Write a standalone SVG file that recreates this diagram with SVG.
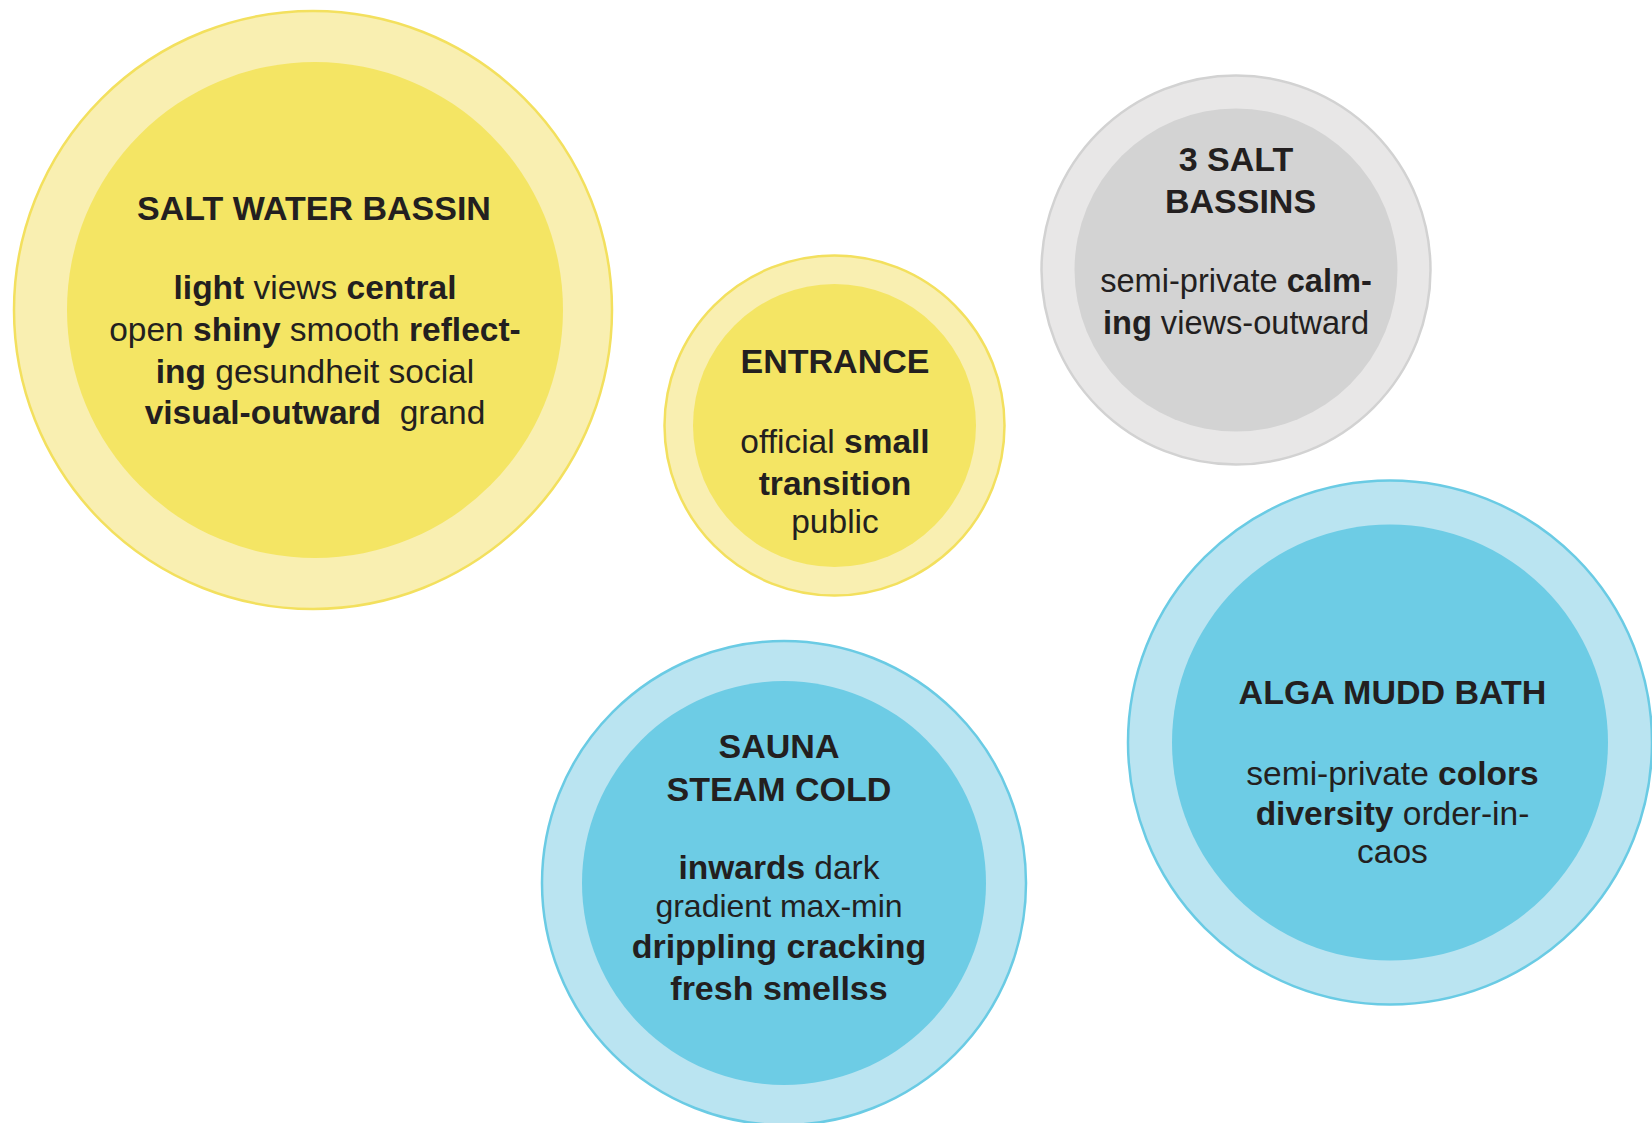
<svg xmlns="http://www.w3.org/2000/svg" width="1652" height="1123" viewBox="0 0 1652 1123">
<style>
text{font-family:"Liberation Sans",Arial,sans-serif;fill:#231F20;text-anchor:middle;font-size:33.5px}
.b{font-weight:bold}
.t{font-weight:bold;font-size:34px}
.yo{fill:#F9EFB1;stroke:#F3E05E;stroke-width:2.5}
.yi{fill:#F4E564}
.go{fill:#E8E7E7;stroke:#D2D2D2;stroke-width:2.5}
.gi{fill:#D3D3D3}
.bo{fill:#BAE4F1;stroke:#6ACBE4;stroke-width:2.5}
.bi{fill:#6DCCE5}
</style>
<rect width="1652" height="1123" fill="#FFFFFF"/>
<g id="connectors"></g>
<g id="salt-water-bassin">
<circle class="yo" cx="313" cy="310" r="299"/>
<circle class="yi" cx="315" cy="310" r="248"/>
<text class="t" x="314" y="220">SALT WATER BASSIN</text>
<text x="315" y="299"><tspan class="b">light</tspan> views <tspan class="b">central</tspan></text>
<text x="315" y="341">open <tspan class="b">shiny</tspan> smooth <tspan class="b">reflect-</tspan></text>
<text x="315" y="383"><tspan class="b">ing</tspan> gesundheit social</text>
<text x="315" y="424" xml:space="preserve"><tspan class="b">visual-outward</tspan>  grand</text>
</g>
<g id="entrance">
<circle class="yo" cx="834.5" cy="425.5" r="170"/>
<circle class="yi" cx="834.5" cy="425.5" r="141.5"/>
<text class="t" x="835" y="373">ENTRANCE</text>
<text x="835" y="453">official <tspan class="b">small</tspan></text>
<text x="835" y="495" class="b">transition</text>
<text x="835" y="533">public</text>
</g>
<g id="three-salt-bassins">
<circle class="go" cx="1236" cy="270" r="194.5"/>
<circle class="gi" cx="1236" cy="270" r="161.5"/>
<text class="t" x="1236" y="171">3 SALT</text>
<text class="t" x="1240.5" y="213">BASSINS</text>
<text x="1236" y="292" style="font-size:32.6px">semi-private <tspan class="b">calm-</tspan></text>
<text x="1236" y="334" style="font-size:32.6px"><tspan class="b">ing</tspan> views-outward</text>
</g>
<g id="sauna-steam-cold">
<circle class="bo" cx="784" cy="883" r="242"/>
<circle class="bi" cx="784" cy="883" r="202"/>
<text class="t" x="779" y="758">SAUNA</text>
<text class="t" x="779" y="801">STEAM COLD</text>
<text x="779" y="879"><tspan class="b">inwards</tspan> dark</text>
<text x="779" y="917" style="font-size:32px">gradient max-min</text>
<text x="779" y="958" class="b" style="font-size:34px">drippling cracking</text>
<text x="779" y="1000" class="b" style="font-size:34px">fresh smellss</text>
</g>
<g id="alga-mudd-bath">
<circle class="bo" cx="1390" cy="742.5" r="262"/>
<circle class="bi" cx="1390" cy="742.5" r="218"/>
<text class="t" x="1392.5" y="704">ALGA MUDD BATH</text>
<text x="1392.5" y="785">semi-private <tspan class="b">colors</tspan></text>
<text x="1392.5" y="825"><tspan class="b">diversity</tspan> order-in-</text>
<text x="1392.5" y="863">caos</text>
</g>
</svg>
